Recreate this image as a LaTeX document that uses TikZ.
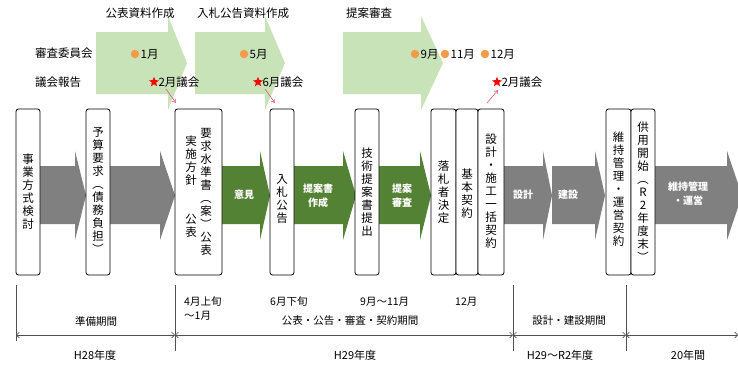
\documentclass[tikz,border=0pt]{standalone}
\usepackage{fontspec}
\usepackage{graphicx}
\setmainfont{Noto Sans CJK JP}
\usetikzlibrary{shapes.geometric,arrows.meta}
\definecolor{lgreen}{HTML}{C9E3B8}
\definecolor{dgreen}{HTML}{548235}
\definecolor{agray}{HTML}{808080}
\definecolor{dotorange}{HTML}{F29B4B}
\definecolor{pinkarr}{HTML}{E45C74}
\definecolor{linegray}{HTML}{505050}
\newcommand\vlp{\rotatebox[origin=c]{-90}{（}}
\newcommand\vrp{\rotatebox[origin=c]{-90}{）}}
\newcommand\blockarrow[4]{\fill[#1] (#2,166) -- (#3,166) -- (#3,151) -- (#4,195.5) -- (#3,240) -- (#3,224) -- (#2,224) -- cycle;}
\newcommand\toparrow[3]{\fill[lgreen] (#1,32) -- (#2,32) -- (#2,16) -- (#3,63) -- (#2,110) -- (#2,94) -- (#1,94) -- cycle;}
\begin{document}
\begin{tikzpicture}[x=1pt,y=-1pt,
  box/.style={draw=black, line width=0.8pt, rounded corners=2.5pt, fill=white, inner sep=0pt, minimum height=166pt},
  vtext/.style={align=center, inner sep=0pt, font=\fontsize{11.5}{13}\selectfont},
  lbl/.style={inner sep=1pt, font=\fontsize{11.5}{13}\selectfont},
  albl/.style={inner sep=0pt, align=center, text=white, font=\fontsize{10}{14}\selectfont\bfseries},
  blbl/.style={inner sep=1pt, font=\fontsize{10.5}{13}\selectfont},
  ylbl/.style={inner sep=1pt, font=\fontsize{11}{13}\selectfont},
  dot/.style={circle, fill=dotorange, minimum size=8.5pt, inner sep=0pt},
  redstar/.style={star, star points=5, star point ratio=2.3, fill=red, minimum size=10.5pt, inner sep=0pt},
  pinkline/.style={draw=pinkarr, line width=0.6pt, -{Straight Barb[length=3pt,width=4pt]}},
  period/.style={draw=linegray, line width=0.6pt, {Straight Barb[length=3pt,width=6pt]}-{Straight Barb[length=3pt,width=6pt]}},
  vline/.style={draw=linegray, line width=0.6pt}]
\useasboundingbox (0,0) rectangle (738,368);
\clip (0,0) rectangle (738,368);
\fill[white] (0,0) rectangle (738,368);

% light green top arrows
\toparrow{96}{168}{187}
\toparrow{195}{265}{285}
\toparrow{343}{421}{443}

% top labels
\node[lbl] (t1) at (140,13) {公表資料作成};
\node[lbl] (t2) at (243,13) {入札公告資料作成};
\node[lbl] (t3) at (369,13) {提案審査};
\node[lbl, anchor=west] (r1) at (34,53) {審査委員会};
\node[lbl, anchor=west] (r2) at (34,82) {議会報告};

% committee dots
\node[dot] (d1) at (135,54) {};
\node[lbl, anchor=west] at (d1.east) {1月};
\node[dot] (d2) at (244,54) {};
\node[lbl, anchor=west] at (d2.east) {5月};
\node[dot] (d3) at (415,54) {};
\node[lbl, anchor=west] (d3t) at (d3.east) {9月};
\node[dot] (d4) at (445,54) {};
\node[lbl, anchor=west] at (d4.east) {11月};
\node[dot] (d5) at (485,54) {};
\node[lbl, anchor=west] at (d5.east) {12月};

% assembly stars
\node[redstar] (s1) at (154,82) {};
\node[lbl, anchor=west] (s1t) at (s1.east) {2月議会};
\node[redstar] (s2) at (258,82) {};
\node[lbl, anchor=west] (s2t) at (s2.east) {6月議会};
\node[redstar] (s3) at (497,82) {};
\node[lbl, anchor=west] (s3t) at (s3.east) {2月議会};

% main flow arrows
\blockarrow{agray}{40}{75}{86}
\blockarrow{agray}{110}{160}{175}
\blockarrow{dgreen}{222}{260}{270}
\blockarrow{dgreen}{294}{343}{356}
\blockarrow{dgreen}{379}{420}{431}
\blockarrow{agray}{504}{543}{552}
\blockarrow{agray}{552}{595}{605}
\blockarrow{agray}{655}{727}{742}

\node[albl] (a1) at (244,195) {意見};
\node[albl] (a2) at (318,196) {提案書\\作成};
\node[albl] (a3) at (402,196) {提案\\審査};
\node[albl] (a4) at (523,195) {設計};
\node[albl] (a5) at (568,195) {建設};
\node[albl] (a6) at (688,194) {維持管理\\・運営};

% boxes
\node[box, minimum width=24pt] (b1) at (28,192) {};
\node[vtext] at (28,192) {事\\業\\方\\式\\検\\討};
\node[box, minimum width=24pt] (b2) at (98,192) {};
\node[vtext] at (98,191) {予\\算\\要\\求\\\vlp\\債\\務\\負\\担\\\vrp};
\node[box, minimum width=47pt] (b3) at (198.5,192) {};
\node[vtext] at (206,192) {要\\求\\水\\準\\書\\\vlp\\案\\\vrp\\公\\表};
\node[vtext] at (191,161) {実\\施\\方\\針};
\node[vtext] at (191,226) {公\\表};
\node[box, minimum width=24pt] (b4) at (282,192) {};
\node[vtext] at (282,199) {入\\札\\公\\告};
\node[box, minimum width=24pt] (b5) at (367,192) {};
\node[vtext] at (367,192) {技\\術\\提\\案\\書\\提\\出};
\node[box, minimum width=25pt] (b6) at (443.5,192) {};
\node[vtext] at (443.5,192) {落\\札\\者\\決\\定};
\node[box, minimum width=22pt] (b7) at (467,192) {};
\node[vtext] at (467,194) {基\\本\\契\\約};
\node[box, minimum width=26pt] (b8) at (491,192) {};
\node[vtext] at (491,191) {設\\計\\・\\施\\工\\一\\括\\契\\約};
\node[box, minimum width=25pt] (b9) at (618.5,192) {};
\node[vtext] at (618.5,189) {維\\持\\管\\理\\・\\運\\営\\契\\約};
\node[box, minimum width=24pt] (b10) at (643,192) {};
\node[vtext] at (643,192) {供\\用\\開\\始\\\vlp\\R\\2\\年\\度\\末\\\vrp};

% small pink arrows
\coordinate (p1a) at (166,89);
\coordinate (p1b) at (176,103);
\coordinate (p2a) at (265,89);
\coordinate (p2b) at (275,103);
\coordinate (p3a) at (487,103);
\coordinate (p3b) at (498,90);
\draw[pinkline] (p1a) -- (p1b);
\draw[pinkline] (p2a) -- (p2b);
\draw[pinkline] (p3a) -- (p3b);

% timing labels
\node[blbl, anchor=west] (m1) at (183,302) {4月上旬};
\node[blbl, anchor=west] (m1b) at (183,316) {～1月};
\node[blbl, anchor=west] (m2) at (269,302) {6月下旬};
\node[blbl, anchor=west] (m3) at (359,302) {9月～11月};
\node[blbl, anchor=west] (m4) at (454,302) {12月};

% period lines
\coordinate (v1t) at (16,285);  \coordinate (v1b) at (16,341);
\coordinate (v2t) at (175,285); \coordinate (v2b) at (175,351);
\coordinate (v3t) at (513,285); \coordinate (v3b) at (513,351);
\coordinate (v4t) at (626,285); \coordinate (v4b) at (626,351);
\coordinate (e1) at (738,335);
\draw[vline] (v1t) -- (v1b);
\draw[vline] (v2t) -- (v2b);
\draw[vline] (v3t) -- (v3b);
\draw[vline] (v4t) -- (v4b);
\coordinate (h1) at (16,335);
\coordinate (h2) at (175,335);
\coordinate (h3) at (513,335);
\coordinate (h4) at (626,335);
\draw[period] (h1) -- (h2);
\draw[period] (h2) -- (h3);
\draw[period] (h3) -- (h4);
\draw[period] (h4) -- (e1);

\node[blbl] (q1) at (96,321) {準備期間};
\node[blbl] (q2) at (350,321) {公表・公告・審査・契約期間};
\node[blbl] (q3) at (569,321) {設計・建設期間};
\node[ylbl] (y1) at (95,355) {H28年度};
\node[ylbl] (y2) at (355,355) {H29年度};
\node[ylbl] (y3) at (560,355) {H29～R2年度};
\node[ylbl] (y4) at (688,355) {20年間};
\end{tikzpicture}
\end{document}
